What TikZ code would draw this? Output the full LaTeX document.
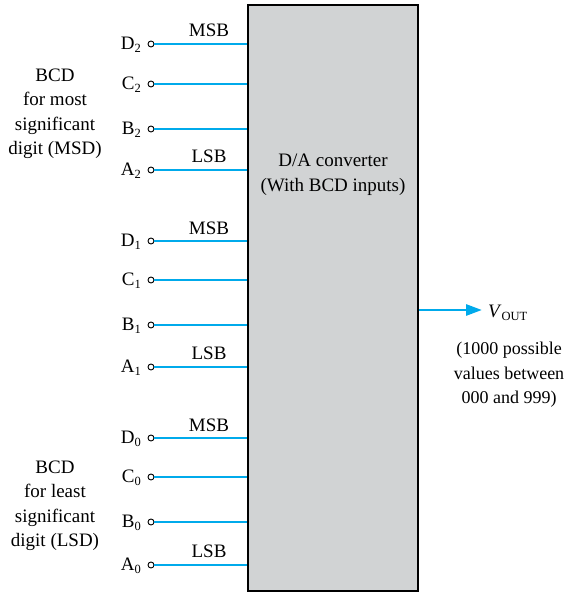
\documentclass[tikz,border=0pt]{standalone}
\usepackage{fontspec}
\setmainfont{Liberation Serif}
\usetikzlibrary{arrows.meta}
\definecolor{sigblue}{RGB}{0,170,235}
\definecolor{boxgray}{RGB}{209,211,212}
\newcommand{\mysub}[2]{#1\raisebox{-0.35ex}{\fontsize{12.5}{12.5}\selectfont #2}}
\begin{document}
\begin{tikzpicture}[x=1pt,y=-1pt,
  txt/.style={font=\fontsize{19}{24.5}\selectfont, inner sep=0pt},
  pin/.style={circle, draw=black, fill=white, line width=0.9pt, inner sep=0pt, minimum size=6pt},
  sig/.style={draw=sigblue, line width=2.8pt},
  dacbox/.style={draw=black, fill=boxgray, line width=2.6pt, minimum width=170pt, minimum height=586pt, inner sep=0pt}]
\useasboundingbox (0,0) rectangle (567,593);
\node[dacbox] (dac) at (333,298) {};
\node[txt, align=center] (dactxt) at (333,175) {D/A converter\\(With BCD inputs)};
\foreach \n/\a/\b/\y in {d2/D/2/44, c2/C/2/84, b2/B/2/129, a2/A/2/170,
                      d1/D/1/241, c1/C/1/280, b1/B/1/325, a1/A/1/367,
                      d0/D/0/438, c0/C/0/477, b0/B/0/522, a0/A/0/565}{
  \node[pin] (\n) at (151,\y) {};
  \node[txt, anchor=east] (\n lab) at (141,\y+1) {\mysub{\a}{\b}};
  \draw[sig] (\n.east) -- (\n.east -| dac.west);
}
\foreach \n/\t/\y in {m2/MSB/30, l2/LSB/156, m1/MSB/228, l1/LSB/353, m0/MSB/425, l0/LSB/551}{
  \node[txt] (\n) at (209,\y) {\t};
}
\node[txt, align=center] (msd) at (55,114) {BCD\\for most\\significant\\digit (MSD)};
\node[txt, align=center] (lsd) at (55,506) {BCD\\for least\\significant\\digit (LSD)};
\coordinate (vo) at (482,310);
\draw[sig, -{Triangle[length=16pt, width=11pt]}] (vo -| dac.east) -- (vo);
\node[txt, anchor=west] (vout) at (488,313) {\mysub{\textit{V}}{OUT}};
\node[txt, align=center, font=\fontsize{18}{24.5}\selectfont] (vtxt) at (509,375) {(1000 possible\\values between\\000 and 999)};
\end{tikzpicture}
\end{document}
